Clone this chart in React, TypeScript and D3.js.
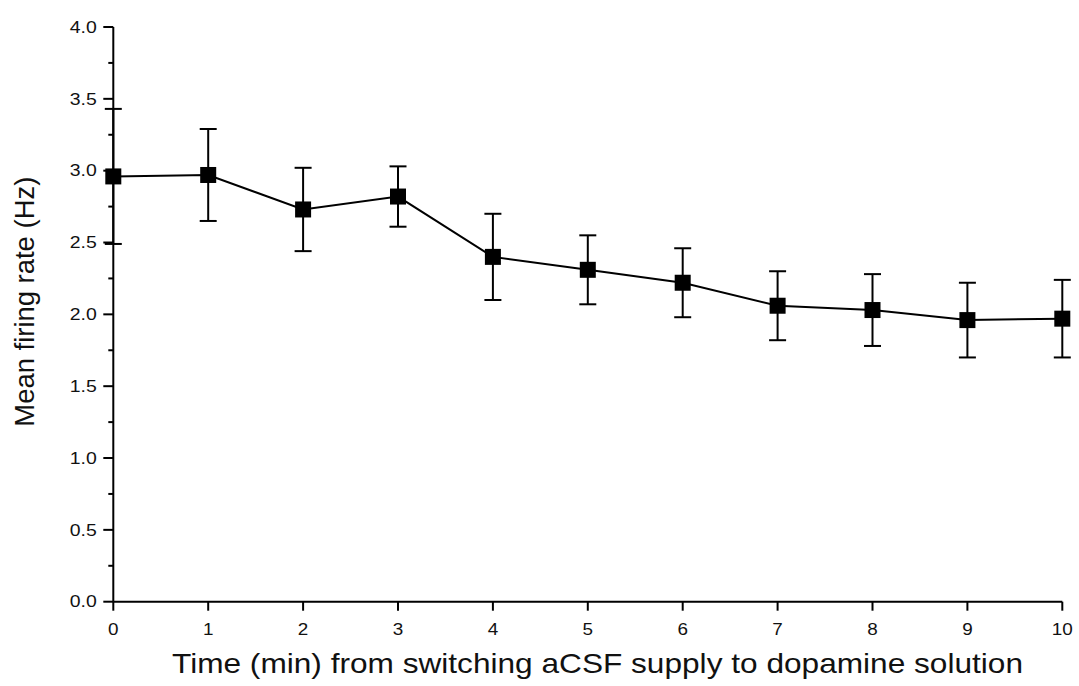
import React from "react";
import * as d3 from "d3";

const times = [0, 1, 2, 3, 4, 5, 6, 7, 8, 9, 10];
const means = [2.96, 2.97, 2.73, 2.82, 2.40, 2.31, 2.22, 2.06, 2.03, 1.96, 1.97];
const upper = [3.43, 3.29, 3.02, 3.03, 2.70, 2.55, 2.46, 2.30, 2.28, 2.22, 2.24];
const lower = [2.49, 2.65, 2.44, 2.61, 2.10, 2.07, 1.98, 1.82, 1.78, 1.70, 1.70];
const yTicks = [0, 0.5, 1.0, 1.5, 2.0, 2.5, 3.0, 3.5, 4.0];
const yMinor = [0.25, 0.75, 1.25, 1.75, 2.25, 2.75, 3.25, 3.75];
const xTicks = [0, 1, 2, 3, 4, 5, 6, 7, 8, 9, 10];

export default function App() {
  const W = 1079, H = 686;
  const x = d3.scaleLinear().domain([0, 10]).range([113.3, 1062.3]);
  const y = d3.scaleLinear().domain([0, 4]).range([601.7, 27]);
  const line = d3.line<number>().x((_, i) => x(times[i])).y((d) => y(d));
  const font = "'Liberation Sans', Arial, Helvetica, sans-serif";
  const cap = 8.5;
  const ms = 16;
  return (
    <svg width={W} height={H} style={{ position: "absolute", left: 0, top: 0, background: "#fff" }}>
      <g stroke="#000" strokeWidth={2} fill="none">
        <line x1={x(0)} x2={x(0)} y1={y(4)} y2={y(0)} />
        <line x1={x(0)} x2={x(10)} y1={y(0)} y2={y(0)} />
        {yTicks.map((t) => (
          <line key={"yt" + t} x1={x(0) - 10} x2={x(0)} y1={y(t)} y2={y(t)} />
        ))}
        {yMinor.map((t) => (
          <line key={"ym" + t} x1={x(0) - 5} x2={x(0)} y1={y(t)} y2={y(t)} />
        ))}
        {xTicks.map((t) => (
          <line key={"xt" + t} x1={x(t)} x2={x(t)} y1={y(0)} y2={y(0) + 9} />
        ))}
      </g>
      <g stroke="#000" strokeWidth={2} fill="none">
        {times.map((t, i) => (
          <g key={"e" + t}>
            <line x1={x(t)} x2={x(t)} y1={y(upper[i])} y2={y(lower[i])} />
            <line x1={x(t) - cap} x2={x(t) + cap} y1={y(upper[i])} y2={y(upper[i])} />
            <line x1={x(t) - cap} x2={x(t) + cap} y1={y(lower[i])} y2={y(lower[i])} />
          </g>
        ))}
        <path d={line(means) || ""} />
      </g>
      <g fill="#000">
        {times.map((t, i) => (
          <rect key={"m" + t} x={x(t) - ms / 2} y={y(means[i]) - ms / 2} width={ms} height={ms} />
        ))}
      </g>
      <g fontFamily={font} fontSize={16} fill="#111">
        {yTicks.map((t) => (
          <text
            key={"yl" + t}
            x={x(0) - 43.5}
            y={y(t)}
            dy="0.36em"
            textLength={27}
            lengthAdjust="spacingAndGlyphs"
          >
            {t.toFixed(1)}
          </text>
        ))}
        {xTicks.map((t) => {
          const s = String(t);
          const w = s.length * 10.5;
          return (
            <text
              key={"xl" + t}
              x={x(t) - w / 2}
              y={634.5}
              textLength={w}
              lengthAdjust="spacingAndGlyphs"
            >
              {s}
            </text>
          );
        })}
      </g>
      <text
        fontFamily={font}
        fontSize={27}
        fill="#111"
        textLength={250}
        lengthAdjust="spacingAndGlyphs"
        transform={`translate(34, 426.7) rotate(-90)`}
      >
        Mean firing rate (Hz)
      </text>
      <text
        fontFamily={font}
        fontSize={28}
        fill="#111"
        x={172}
        y={673}
        textLength={851}
        lengthAdjust="spacingAndGlyphs"
      >
        Time (min) from switching aCSF supply to dopamine solution
      </text>
    </svg>
  );
}
